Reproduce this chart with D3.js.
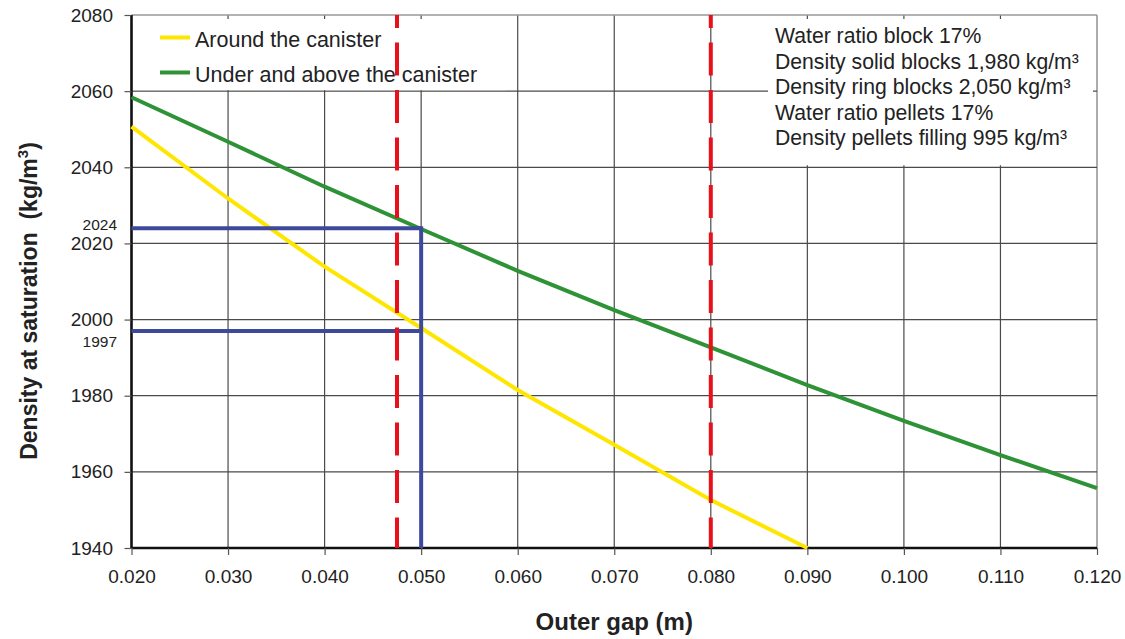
<!DOCTYPE html>
<html>
<head>
<meta charset="utf-8">
<script src="https://cdn.jsdelivr.net/npm/d3@7"></script>
<style>
  body { margin: 0; background: #fff; }
  svg text { font-family: "Liberation Sans", Arial, sans-serif; fill: #222; }
</style>
</head>
<body>
<svg id="chart" width="1125" height="639"></svg>
<script>
// outer gap (m) at each grid step
var gapsGreen = [0.02, 0.03, 0.04, 0.05, 0.06, 0.07, 0.08, 0.09, 0.10, 0.11, 0.12];
var underAbove = [2058.4, 2046.7, 2034.9, 2023.8, 2012.8, 2002.5, 1992.7, 1982.8, 1973.4, 1964.4, 1955.7];
var gapsYellow = [0.02, 0.03, 0.04, 0.05, 0.06, 0.07, 0.08, 0.09];
var aroundCanister = [2050.7, 2031.8, 2013.9, 1997.8, 1981.5, 1967.1, 1952.6, 1940.0];

var xTicks = [0.02, 0.03, 0.04, 0.05, 0.06, 0.07, 0.08, 0.09, 0.10, 0.11, 0.12];
var yTicks = [1940, 1960, 1980, 2000, 2020, 2040, 2060, 2080];

var refGap = 0.05;
var refValues = [2024, 1997];
var limitGaps = [0.0475, 0.08];

var legendNames = ["Around the canister", "Under and above the canister"];
var notes = [
  "Water ratio block 17%",
  "Density solid blocks 1,980 kg/m³",
  "Density ring blocks 2,050 kg/m³",
  "Water ratio pellets 17%",
  "Density pellets filling 995 kg/m³"
];

var svg = d3.select("#chart");
var x = d3.scaleLinear().domain([0.02, 0.12]).range([131.5, 1097]);
var y = d3.scaleLinear().domain([1940, 2080]).range([548, 15]);

var grid = svg.append("g");
grid.selectAll("line.v").data(xTicks.slice(1)).enter().append("line")
  .attr("x1", d => x(d)).attr("x2", d => x(d))
  .attr("y1", y(2080)).attr("y2", y(1940))
  .attr("stroke", d => d == 0.12 ? "#999" : "#4a4a4a")
  .attr("stroke-width", d => d == 0.12 ? 1.6 : 1.2);
grid.selectAll("line.h").data(yTicks.slice(1)).enter().append("line")
  .attr("x1", x(0.02)).attr("x2", x(0.12))
  .attr("y1", d => y(d)).attr("y2", d => y(d))
  .attr("stroke", d => d == 2080 ? "#999" : "#4a4a4a")
  .attr("stroke-width", d => d == 2080 ? 1.6 : 1.2);

// white boxes for legend and notes
svg.append("rect").attr("x", x(0.02) + 2).attr("y", y(2080) + 4)
  .attr("width", 372).attr("height", y(2060) - y(2080) - 5).attr("fill", "#fff");
svg.append("rect").attr("x", 768).attr("y", y(2080) + 4)
  .attr("width", x(0.12) - 4 - 768).attr("height", y(2040) - y(2080) - 6).attr("fill", "#fff");

// axes
var yAxis = svg.append("g").attr("transform", "translate(" + x(0.02) + ",0)")
  .call(d3.axisLeft(y).tickValues(yTicks).tickFormat(d3.format("d")).tickSize(7).tickPadding(11.5));
var xAxis = svg.append("g").attr("transform", "translate(0," + y(1940) + ")")
  .call(d3.axisBottom(x).tickValues(xTicks).tickFormat(d3.format(".3f")).tickSize(7).tickPadding(14.5));
[xAxis, yAxis].forEach(function(a) {
  a.select(".domain").attr("stroke", "#111").attr("stroke-width", 2.6);
  a.selectAll(".tick line").attr("stroke", "#555").attr("stroke-width", 1.2);
  a.selectAll(".tick text").attr("font-size", 19).attr("fill", "#222")
    .attr("font-family", "Liberation Sans, Arial, sans-serif");
});
yAxis.select(".domain").attr("d", "M0," + y(2080) + "V" + y(1940));
xAxis.select(".domain").attr("d", "M" + x(0.02) + ",0H" + x(0.12));

// curves
var line = d3.line().x(d => x(d[0])).y(d => y(d[1]));
svg.append("path").datum(d3.zip(gapsYellow, aroundCanister))
  .attr("d", line).attr("fill", "none").attr("stroke", "#ffe600").attr("stroke-width", 4);
svg.append("path").datum(d3.zip(gapsGreen, underAbove))
  .attr("d", line).attr("fill", "none").attr("stroke", "#2e9236").attr("stroke-width", 4);

// reference blue lines
svg.selectAll("line.ref").data(refValues).enter().append("line")
  .attr("x1", x(0.02)).attr("x2", x(refGap))
  .attr("y1", d => y(d)).attr("y2", d => y(d))
  .attr("stroke", "#3d4a9c").attr("stroke-width", 4);
svg.append("line")
  .attr("x1", x(refGap)).attr("x2", x(refGap))
  .attr("y1", y(d3.max(refValues)) - 2).attr("y2", y(1940))
  .attr("stroke", "#3d4a9c").attr("stroke-width", 4);
svg.selectAll("text.ref").data(refValues).enter().append("text")
  .attr("x", 117).attr("y", (d, i) => i == 0 ? y(d) + 2 : y(d) + 16)
  .attr("text-anchor", "end").attr("font-size", 15.5)
  .text(d => d);

// red dashed limits
svg.selectAll("line.lim").data(limitGaps).enter().append("line")
  .attr("x1", d => x(d)).attr("x2", d => x(d))
  .attr("y1", y(2080)).attr("y2", y(1940))
  .attr("stroke", "#e8101a").attr("stroke-width", 4)
  .attr("stroke-dasharray", "33,14.5").attr("stroke-dashoffset", 20);

// legend
var legendColors = ["#ffe600", "#2e9236"];
legendNames.forEach(function(name, i) {
  var ly = 37.5 + i * 35;
  svg.append("line").attr("x1", 160).attr("x2", 190).attr("y1", ly).attr("y2", ly)
    .attr("stroke", legendColors[i]).attr("stroke-width", 4);
  svg.append("text").attr("x", 195).attr("y", ly + 9).attr("font-size", 21.5).text(name);
});

// notes
svg.selectAll("text.note").data(notes).enter().append("text")
  .attr("x", 775).attr("y", (d, i) => 43.3 + i * 25.4)
  .attr("font-size", 21.2).text(d => d);

// axis titles
svg.append("text").attr("x", x(0.07)).attr("y", 630)
  .attr("text-anchor", "middle").attr("font-size", 24).attr("font-weight", "bold")
  .text("Outer gap (m)");
var yt = svg.append("text").attr("transform", "translate(37,301) rotate(-90)")
  .attr("text-anchor", "middle").attr("font-size", 23).attr("font-weight", "bold")
  .attr("xml:space", "preserve");
yt.append("tspan").text("Density at saturation  (kg/m");
yt.append("tspan").attr("font-size", 15).attr("dy", -9).text("3");
yt.append("tspan").attr("dy", 9).text(")");
</script>
</body>
</html>
